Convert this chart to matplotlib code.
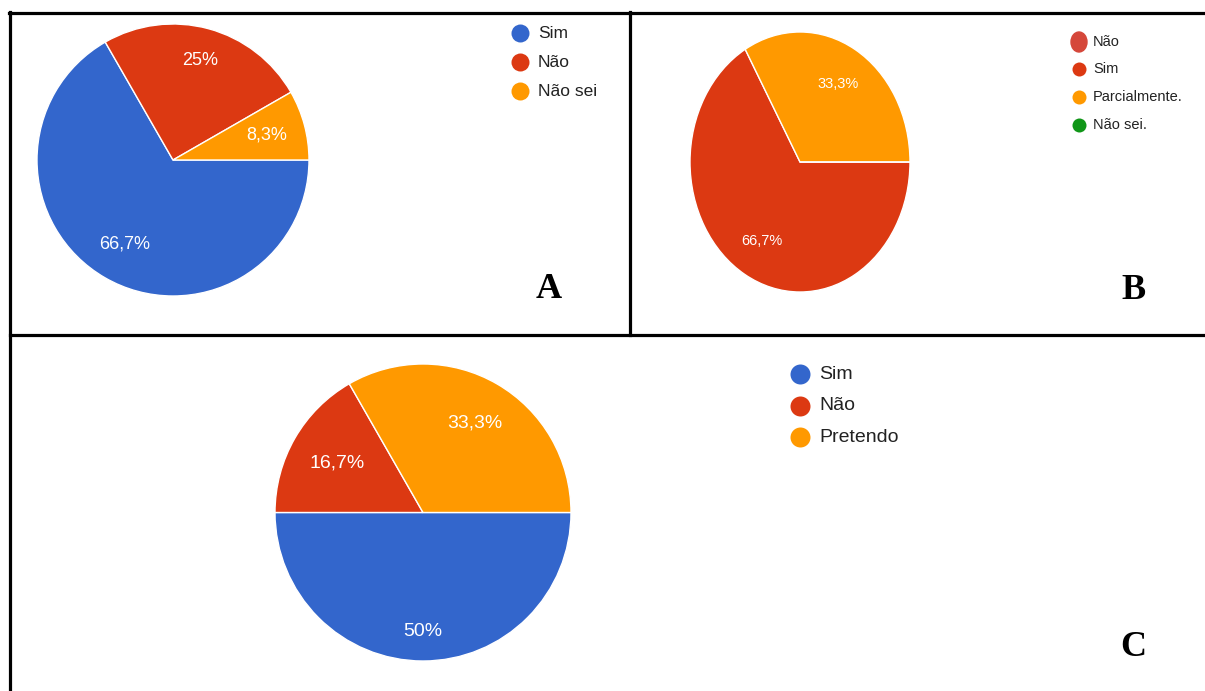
import matplotlib
matplotlib.use('Agg')
import matplotlib.pyplot as plt

W, H = 1205, 691

# painel A
labels_a = ['Sim', 'Não', 'Não sei']
values_a = [66.7, 25, 8.3]
colors_a = ['#3366CC', '#DC3912', '#FF9900']

# painel B
labels_b = ['Não', 'Sim', 'Parcialmente.', 'Não sei.']
values_b = [0, 66.7, 33.3, 0]
colors_b = ['#D5473A', '#DC3912', '#FF9900', '#109618']

# painel C
labels_c = ['Sim', 'Não', 'Pretendo']
values_c = [50, 16.7, 33.3]
colors_c = ['#3366CC', '#DC3912', '#FF9900']

SANS = ['Liberation Sans', 'DejaVu Sans']
SERIF = ['Liberation Serif', 'DejaVu Serif']


def fmt(p):
    if p < 0.5:
        return ''
    s = f'{p:.1f}'.rstrip('0').rstrip('.')
    return s.replace('.', ',') + '%'


def pie_axes(left, top, w, h):
    return fig.add_axes([left / W, 1 - (top + h) / H, w / W, h / H])


def draw_pie(ax, values, colors, fs, dists=None):
    wedges, texts, autotexts = ax.pie(
        values, colors=colors, startangle=0, counterclock=False,
        autopct=fmt, pctdistance=0.72,
        wedgeprops=dict(edgecolor='white', linewidth=1),
        textprops=dict(color='white', fontsize=fs, family=SANS))
    ax.set_aspect('auto')
    ax.set_xlim(-1, 1)
    ax.set_ylim(-1, 1)
    if dists:
        for t, d in zip(autotexts, dists):
            x, y = t.get_position()
            t.set_position((x * d / 0.72, y * d / 0.72))
    return wedges


def legend(ax, x, y0, step, labels, colors, fs, ms, gap):
    # ms = diametro do circulo em pixels
    for i, (lab, c) in enumerate(zip(labels, colors)):
        y = y0 + i * step
        ax.scatter([x], [y], s=(ms * 0.72) ** 2, color=c, zorder=3,
                   linewidths=0)
        ax.text(x + gap, y, lab, fontsize=fs, family=SANS,
                color='#222222', va='center', ha='left')


fig = plt.figure(figsize=(W / 100, H / 100), dpi=100)

# camada de fundo em pixels
bg = fig.add_axes([0, 0, 1, 1])
bg.set_xlim(0, W)
bg.set_ylim(H, 0)
bg.axis('off')

# bordas
lw = 2.3
bg.plot([9, W], [12.5, 12.5], color='black', lw=lw)
bg.plot([10, 10], [12, H], color='black', lw=lw)
bg.plot([630, 630], [12, 335], color='black', lw=lw)
bg.plot([10, W], [335, 335], color='black', lw=lw)

# pizzas
ax_a = pie_axes(37, 24, 272, 272)
draw_pie(ax_a, values_a, colors_a, 13, dists=[0.71, 0.76, 0.71])

ax_b = pie_axes(690, 32, 220, 260)
draw_pie(ax_b, values_b, colors_b, 10.5, dists=[0.7, 0.7, 0.69, 0.7])

ax_c = pie_axes(275, 364, 296, 297)
draw_pie(ax_c, values_c, colors_c, 14, dists=[0.8, 0.67, 0.7])

# legendas
legend(bg, 520, 33, 29, labels_a, colors_a, 12.5, 18, 18)
legend(bg, 1079, 69, 28, labels_b[1:], colors_b[1:], 10.5, 14, 14)
bg.add_patch(matplotlib.patches.Ellipse((1079, 42), 16, 20,
                                        color=colors_b[0], zorder=3))
bg.text(1093, 42, labels_b[0], fontsize=10.5, family=SANS,
        color='#222222', va='center', ha='left')
legend(bg, 800, 374, 31.5, labels_c, colors_c, 14, 20, 19)

# letras dos painéis
for letter, x, y in [('A', 549, 289), ('B', 1133, 290), ('C', 1133, 648)]:
    bg.text(x, y, letter, fontsize=26, fontweight='bold', family=SERIF,
            ha='center', va='center', color='black')

fig.savefig('out.png', dpi=100)
